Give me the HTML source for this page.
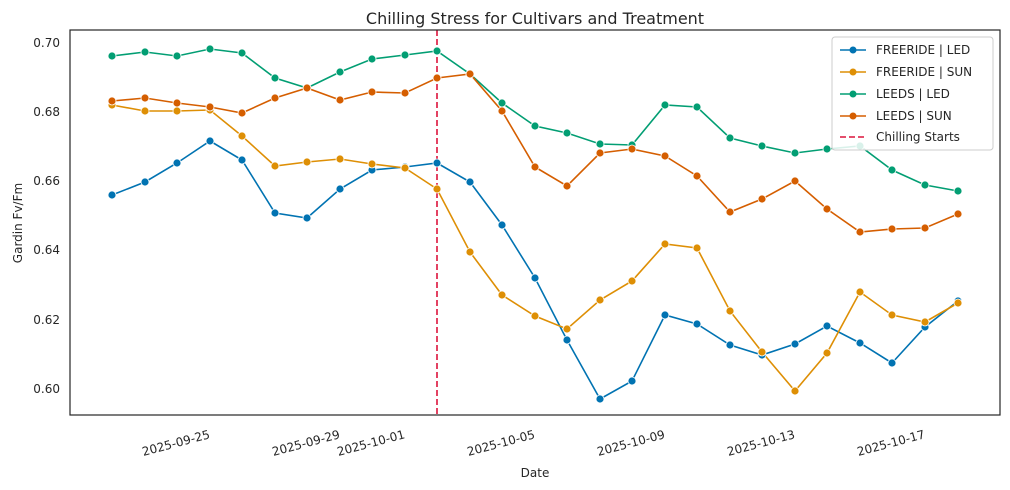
<!DOCTYPE html>
<html><head><style>body{margin:0;background:#fff}svg{display:block}text{font-family:"DejaVu Sans","Liberation Sans",sans-serif;fill:#262626}</style></head><body>
<svg width="1010" height="490" xmlns="http://www.w3.org/2000/svg">
<rect width="1010" height="490" fill="#fff"/>
<text x="535" y="24" font-size="16" text-anchor="middle">Chilling Stress for Cultivars and Treatment</text>
<g font-size="12" text-anchor="end">
<text x="60" y="47">0.70</text><text x="60" y="116">0.68</text><text x="60" y="185">0.66</text><text x="60" y="254">0.64</text><text x="60" y="324">0.62</text><text x="60" y="393">0.60</text>
</g>
<text transform="translate(22,223) rotate(-90)" font-size="12" text-anchor="middle">Gardin Fv/Fm</text>
<text x="535" y="477" font-size="12" text-anchor="middle">Date</text>
<g font-size="12" text-anchor="middle">
<text transform="translate(177,447) rotate(-15)">2025-09-25</text>
<text transform="translate(307,447) rotate(-15)">2025-09-29</text>
<text transform="translate(372,447) rotate(-15)">2025-10-01</text>
<text transform="translate(502,447) rotate(-15)">2025-10-05</text>
<text transform="translate(632,447) rotate(-15)">2025-10-09</text>
<text transform="translate(762,447) rotate(-15)">2025-10-13</text>
<text transform="translate(892,447) rotate(-15)">2025-10-17</text>
</g>
<line x1="437" y1="30" x2="437" y2="415" stroke="#dc143c" stroke-width="1.6" stroke-dasharray="6,3"/>
<g fill="none" stroke-width="1.6">
<polyline stroke="#0173b2" points="112,195 145,182 177,163 210,141 242,160 275,213 307,218 340,189 372,170 405,167 437,163 470,182 502,225 535,278 567,340 600,399 632,381 665,315 697,324 730,345 762,355 795,344 827,326 860,343 892,363 925,327 958,301"/>
<polyline stroke="#de8f05" points="112,105 145,111 177,111 210,110 242,136 275,166 307,162 340,159 372,164 405,168 437,189 470,252 502,295 535,316 567,329 600,300 632,281 665,244 697,248 730,311 762,352 795,391 827,353 860,292 892,315 925,322 958,303"/>
<polyline stroke="#029e73" points="112,56 145,52 177,56 210,49 242,53 275,78 307,88 340,72 372,59 405,55 437,51 470,74 502,103 535,126 567,133 600,144 632,145 665,105 697,107 730,138 762,146 795,153 827,149 860,146 892,170 925,185 958,191"/>
<polyline stroke="#d55e00" points="112,101 145,98 177,103 210,107 242,113 275,98 307,88 340,100 372,92 405,93 437,78 470,74 502,111 535,167 567,186 600,153 632,149 665,156 697,176 730,212 762,199 795,181 827,209 860,232 892,229 925,228 958,214"/>
</g>
<g id="m" stroke="#fff" stroke-width="0.8"></g>
<rect x="70" y="30" width="930" height="385" fill="none" stroke="#262626" stroke-width="1.2"/>
<rect x="832" y="37" width="161" height="113" rx="3" fill="#fff" fill-opacity="0.85" stroke="#ccc"/>
<g font-size="12">
<line x1="840" y1="50" x2="866" y2="50" stroke="#0173b2" stroke-width="1.6"/><circle cx="853" cy="50" r="3.5" fill="#0173b2"/><text x="876" y="54">FREERIDE | LED</text>
<line x1="840" y1="72" x2="866" y2="72" stroke="#de8f05" stroke-width="1.6"/><circle cx="853" cy="72" r="3.5" fill="#de8f05"/><text x="876" y="76">FREERIDE | SUN</text>
<line x1="840" y1="94" x2="866" y2="94" stroke="#029e73" stroke-width="1.6"/><circle cx="853" cy="94" r="3.5" fill="#029e73"/><text x="876" y="98">LEEDS | LED</text>
<line x1="840" y1="116" x2="866" y2="116" stroke="#d55e00" stroke-width="1.6"/><circle cx="853" cy="116" r="3.5" fill="#d55e00"/><text x="876" y="120">LEEDS | SUN</text>
<line x1="840" y1="137" x2="866" y2="137" stroke="#dc143c" stroke-width="1.6" stroke-dasharray="6,3"/><text x="876" y="141">Chilling Starts</text>
</g>
<script>
const g=document.getElementById('m');
document.querySelectorAll('polyline').forEach(p=>{const c=p.getAttribute('stroke');p.getAttribute('points').trim().split(/\s+/).forEach(s=>{const [x,y]=s.split(',');const e=document.createElementNS('http://www.w3.org/2000/svg','circle');e.setAttribute('cx',x);e.setAttribute('cy',y);e.setAttribute('r',4);e.setAttribute('fill',c);g.appendChild(e);});});
</script>
</svg>
</body></html>
